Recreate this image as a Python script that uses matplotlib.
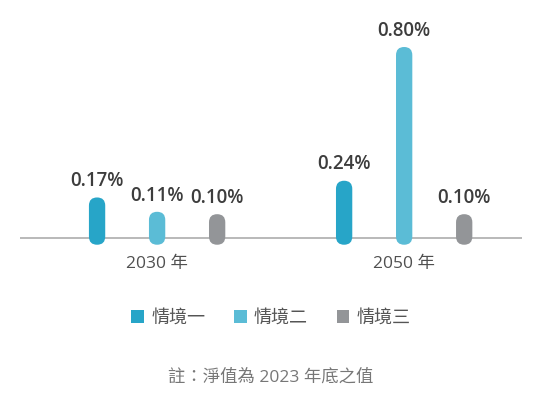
import matplotlib
matplotlib.use("Agg")
import matplotlib.pyplot as plt
from matplotlib.patches import FancyBboxPatch, Rectangle

groups = ["2030 年", "2050 年"]
scenarios = ["情境一", "情境二", "情境三"]
values = {
    "情境一": [0.17, 0.24],
    "情境二": [0.11, 0.80],
    "情境三": [0.10, 0.10],
}
labels = {
    "情境一": ["0.17%", "0.24%"],
    "情境二": ["0.11%", "0.80%"],
    "情境三": ["0.10%", "0.10%"],
}
colors = ["#27a5c8", "#5bbcd6", "#939598"]
note = "註：淨值為 2023 年底之值"

FONT = ["Open Sans", "Noto Sans CJK TC", "DejaVu Sans"]
plt.rcParams["font.family"] = FONT

W, H = 542, 397
fig = plt.figure(figsize=(W / 100, H / 100), dpi=100)
ax_l, ax_r, ax_t, ax_b = 20, 522, 20, 250
ax = fig.add_axes([ax_l / W, 1 - ax_b / H, (ax_r - ax_l) / W, (ax_b - ax_t) / H])

group_centers = [0.0, 1.0]
offset = 0.243
bar_w = 0.066
xlim = (-0.555, 1.477)
ylim = (-0.050, 0.913)
ax.set_xlim(*xlim)
ax.set_ylim(*ylim)
ax.axis("off")

px_x = (ax_r - ax_l) / (xlim[1] - xlim[0])
px_y = (ax_b - ax_t) / (ylim[1] - ylim[0])
aspect = px_x / px_y
r = bar_w / 2
below = 0.028

ax.axhline(0, color="#b3b3b3", lw=1.3, zorder=1)

for i, s in enumerate(scenarios):
    for g, gc in enumerate(group_centers):
        x = gc + (i - 1) * offset
        v = values[s][g]
        p = FancyBboxPatch((x - bar_w / 2, -below), bar_w, v + below,
                           boxstyle=f"round,pad=0,rounding_size={r}",
                           mutation_aspect=aspect,
                           facecolor=colors[i], edgecolor="none", zorder=2)
        ax.add_patch(p)
        ax.annotate(labels[s][g], (x, v), xytext=(0, 4.5), textcoords="offset points",
                    ha="center", va="bottom", fontsize=13.5, fontweight="semibold",
                    color="#3d3d3d", family=FONT)

for g, gc in enumerate(group_centers):
    ax.annotate(groups[g], (gc, 0), xytext=(0, -19), textcoords="offset points",
                ha="center", va="center", fontsize=12.5, color="#505050", family=FONT)

handles = [Rectangle((0, 0), 1, 1, facecolor=c, edgecolor="none") for c in colors]
fig.legend(handles, scenarios, loc="center", bbox_to_anchor=(0.5, 1 - 318 / H),
           ncol=3, frameon=False, handlelength=0.7, handleheight=0.7,
           handletextpad=0.4, columnspacing=1.6, labelcolor="#555555",
           prop={"family": FONT, "size": 13})

fig.text(0.5, 1 - 378 / H, note, ha="center", va="center", fontsize=12.5,
         color="#777777", family=FONT)

fig.savefig("out.png", dpi=100, facecolor="white")
